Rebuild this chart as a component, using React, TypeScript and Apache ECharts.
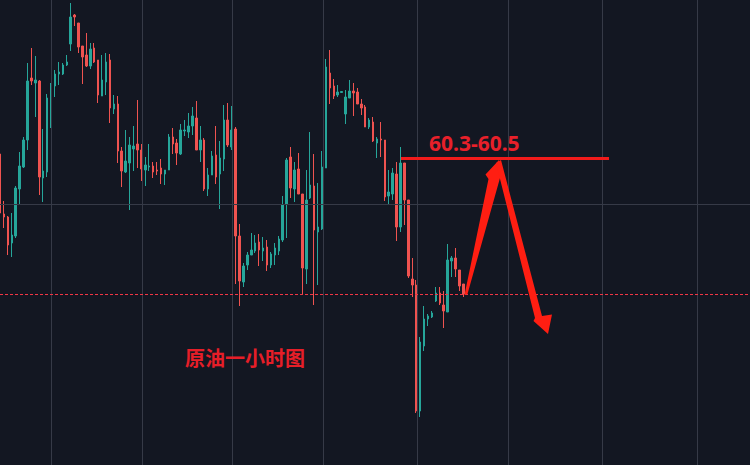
import React, { useEffect, useRef } from "react";
import * as echarts from "echarts";

// Hourly crude oil candles (open, close, low, high)
const opens = [
  60.50, 59.90, 59.87, 59.61, 59.68, 60.15, 60.37, 60.64, 61.26, 61.21,
  61.23, 60.26, 60.32, 61.04, 61.18, 61.30, 61.30, 61.39, 61.60, 61.89,
  61.81, 61.58, 61.49, 61.38, 61.56, 61.44, 61.08, 61.22, 61.44, 60.95,
  61.00, 60.53, 60.32, 60.41, 60.55, 60.60, 60.54, 60.34, 60.37, 60.38,
  60.34, 60.36, 60.30, 60.34, 60.67, 60.61, 60.50, 60.73, 60.72, 60.78,
  60.86, 60.54, 60.64, 60.15, 60.29, 60.49, 60.30, 60.45, 60.84, 60.57,
  60.75, 59.68, 59.22, 59.39, 59.49, 59.53, 59.62, 59.53, 59.57, 59.39,
  59.49, 59.53, 59.64, 60.00, 60.47, 60.15, 60.35, 60.10, 59.35, 60.06,
  60.18, 59.72, 59.75, 60.36, 61.31, 61.18, 61.09, 61.115, 60.90, 61.06,
  61.13, 61.12, 61.00, 60.97, 60.77, 60.82, 60.61, 60.65, 60.64, 60.08,
  60.10, 60.30, 59.77, 60.41, 60.04, 59.25, 59.19, 57.93, 58.58, 58.85,
  58.87, 59.03, 59.11, 58.99, 58.92, 59.43, 59.46, 59.34, 59.20,
];
const closes = [
  59.91, 59.87, 59.59, 59.69, 60.16, 60.38, 60.64, 61.23, 61.23, 61.24,
  60.27, 60.33, 61.06, 61.19, 61.30, 61.32, 61.39, 61.42, 61.87, 61.87,
  61.57, 61.47, 61.38, 61.55, 61.42, 61.09, 61.24, 61.42, 60.96, 61.00,
  60.53, 60.33, 60.43, 60.59, 60.58, 60.54, 60.35, 60.39, 60.38, 60.32,
  60.33, 60.30, 60.34, 60.67, 60.60, 60.51, 60.74, 60.74, 60.78, 60.88,
  60.54, 60.64, 60.15, 60.29, 60.48, 60.27, 60.46, 60.84, 60.59, 60.74,
  59.68, 59.23, 59.38, 59.49, 59.54, 59.61, 59.54, 59.56, 59.39, 59.50,
  59.56, 59.65, 59.99, 60.44, 60.16, 60.34, 60.10, 59.36, 60.04, 60.19,
  59.74, 59.77, 60.37, 61.37, 61.16, 61.08, 61.12, 61.125, 61.07, 61.13,
  61.11, 61.00, 60.96, 60.77, 60.84, 60.63, 60.65, 60.64, 60.07, 60.12,
  60.31, 59.77, 60.41, 60.04, 59.28, 59.19, 57.93, 58.62, 58.85, 58.88,
  58.91, 59.11, 59.01, 58.93, 59.44, 59.46, 59.35, 59.18, 59.10,
];
const lows = [
  59.89, 59.76, 59.49, 59.47, 59.66, 60.00, 60.36, 60.54, 61.19, 60.87,
  60.09, 60.02, 60.27, 60.76, 61.07, 61.19, 61.29, 61.38, 61.53, 61.78,
  61.51, 61.20, 61.37, 61.35, 61.41, 61.01, 61.08, 61.09, 60.81, 60.90,
  60.41, 60.17, 60.31, 59.94, 60.33, 60.36, 60.23, 60.18, 60.33, 60.26,
  60.29, 60.20, 60.19, 60.34, 60.50, 60.39, 60.49, 60.68, 60.66, 60.69,
  60.54, 60.42, 60.13, 60.08, 60.29, 60.20, 59.95, 60.33, 60.57, 60.54,
  59.20, 58.98, 59.17, 59.34, 59.49, 59.51, 59.38, 59.43, 59.33, 59.36,
  59.39, 59.49, 59.62, 59.66, 60.06, 60.02, 60.10, 59.09, 59.20, 60.05,
  58.99, 59.19, 59.74, 60.36, 61.00, 61.05, 61.07, 61.115, 60.80, 61.06,
  60.88, 61.00, 60.89, 60.77, 60.75, 60.62, 60.46, 60.47, 60.03, 59.99,
  60.04, 59.63, 59.72, 59.79, 59.26, 59.07, 57.91, 57.87, 58.53, 58.78,
  58.86, 59.02, 58.99, 58.76, 58.92, 59.27, 59.27, 59.13, 59.07,
];
const highs = [
  60.54, 60.03, 59.88, 59.91, 60.18, 60.52, 60.67, 61.41, 61.56, 61.48,
  61.24, 60.75, 61.10, 61.21, 61.34, 61.42, 61.41, 61.49, 62.01, 61.90,
  61.81, 61.58, 61.71, 61.61, 61.61, 61.44, 61.49, 61.51, 61.50, 61.09,
  61.08, 60.57, 60.74, 60.67, 60.78, 61.04, 60.60, 60.47, 60.60, 60.42,
  60.42, 60.45, 60.34, 60.70, 60.76, 60.65, 60.80, 60.84, 60.91, 60.97,
  61.03, 60.78, 60.66, 60.36, 60.53, 60.78, 60.63, 60.99, 61.01, 60.98,
  60.77, 59.80, 59.41, 59.52, 59.71, 59.69, 59.70, 59.67, 59.64, 59.52,
  59.61, 59.68, 60.08, 60.46, 60.57, 60.42, 60.51, 60.10, 60.34, 60.72,
  60.50, 60.21, 60.53, 61.45, 61.54, 61.25, 61.19, 61.125, 61.14, 61.24,
  61.21, 61.16, 61.05, 60.99, 60.86, 60.87, 60.67, 60.82, 60.64, 60.34,
  60.36, 60.42, 60.57, 60.41, 60.04, 59.46, 59.24, 58.67, 58.98, 58.90,
  58.93, 59.17, 59.17, 59.13, 59.60, 59.48, 59.56, 59.34, 59.20,
];

// Hour slots on the time axis (past candles + empty future space)
const slotCount = 192;
const hours = Array.from({ length: slotCount }, (_, i) => String(i));

// Positions (in hour slots) of the vertical time grid lines
const timeGridSlots = [13.06, 36.24, 59.15, 82.33, 106.27, 129.44, 153.37, 177.57];
// Horizontal price grid line
const priceGridLines = [60.0];
// Last price (dashed line)
const lastPrice = 59.1;
// Target zone line
const targetPrice = 60.46;
const targetFrom = 102.1;
const targetTo = 155.1;

const priceMin = 57.39;
const priceMax = 62.04;

const UP = "#26a69a";
const DOWN = "#ef5350";
const GRID = "#363a47";
const ANN = "#f21b1b";

export default function App() {
  const ref = useRef<HTMLDivElement>(null);

  useEffect(() => {
    document.body.style.margin = "0";
    if (!ref.current) return;
    const chart = echarts.init(ref.current, undefined, { renderer: "svg" });
    const candleData = opens.map((o, i) => [o, closes[i], lows[i], highs[i]]);

    chart.setOption({
      animation: false,
      backgroundColor: "#131722",
      grid: { left: 0, right: 0, top: 0, bottom: 0, containLabel: false },
      xAxis: [
        {
          type: "category",
          data: hours,
          boundaryGap: false,
          show: false,
        },
        {
          type: "value",
          min: 0,
          max: slotCount - 1,
          show: false,
        },
      ],
      yAxis: {
        type: "value",
        min: priceMin,
        max: priceMax,
        show: false,
        splitLine: { show: false },
      },
      series: [
        {
          type: "line",
          xAxisIndex: 1,
          data: [[0, priceGridLines[0]]],
          symbol: "none",
          lineStyle: { opacity: 0 },
          silent: true,
          z: 1,
          markLine: {
            silent: true,
            symbol: ["none", "none"],
            label: { show: false },
            animation: false,
            data: [
              ...timeGridSlots.map((x) => ({
                xAxis: x,
                lineStyle: { color: GRID, width: 1, type: "solid" },
              })),
              ...priceGridLines.map((y) => ({
                yAxis: y,
                lineStyle: { color: GRID, width: 1, type: "solid" },
              })),
              {
                yAxis: lastPrice,
                lineStyle: { color: "#f23645", width: 1, type: [3, 2] },
              },
            ],
          },
        },
        {
          type: "candlestick",
          data: candleData,
          barWidth: 2,
          z: 3,
          itemStyle: {
            color: UP,
            color0: DOWN,
            borderColor: UP,
            borderColor0: DOWN,
            borderWidth: 1,
          },
        },
        {
          type: "line",
          xAxisIndex: 1,
          data: [[0, priceGridLines[0]]],
          symbol: "none",
          lineStyle: { opacity: 0 },
          silent: true,
          z: 6,
          markLine: {
            silent: true,
            symbol: ["none", "none"],
            label: { show: false },
            animation: false,
            data: [
              [
                { coord: [targetFrom, targetPrice] },
                { coord: [targetTo, targetPrice] },
              ],
            ],
            lineStyle: { color: ANN, width: 3, type: "solid" },
          },
        },
      ],
      graphic: [
        {
          type: "text",
          x: 429,
          y: 143,
          z: 10,
          style: {
            text: "60.3-60.5",
            fill: "#e8202a",
            font: 'bold 21px "Noto Sans"',
            verticalAlign: "middle",
            align: "left",
          },
        },
        {
          type: "text",
          x: 185,
          y: 357,
          z: 10,
          style: {
            text: "原油一小时图",
            fill: "#e61e28",
            font: 'bold 20px "Noto Sans CJK SC"',
            verticalAlign: "middle",
            align: "left",
          },
        },
        {
          type: "polygon",
          z: 10,
          shape: {
            points: [
              [464.5, 295],
              [488.5, 179],
              [485.5, 174.5],
              [499, 160],
              [502.5, 174],
              [500, 178],
              [467.5, 294],
            ],
          },
          style: { fill: "#ff1e12" },
        },
        {
          type: "polygon",
          z: 10,
          shape: {
            points: [
              [496, 163],
              [535, 318],
              [533.5, 321],
              [548, 334],
              [552, 314.5],
              [542, 316],
              [501, 160],
            ],
          },
          style: { fill: "#ff1e12" },
        },
      ],
    });

    return () => chart.dispose();
  }, []);

  return <div ref={ref} style={{ width: 750, height: 465 }} />;
}
